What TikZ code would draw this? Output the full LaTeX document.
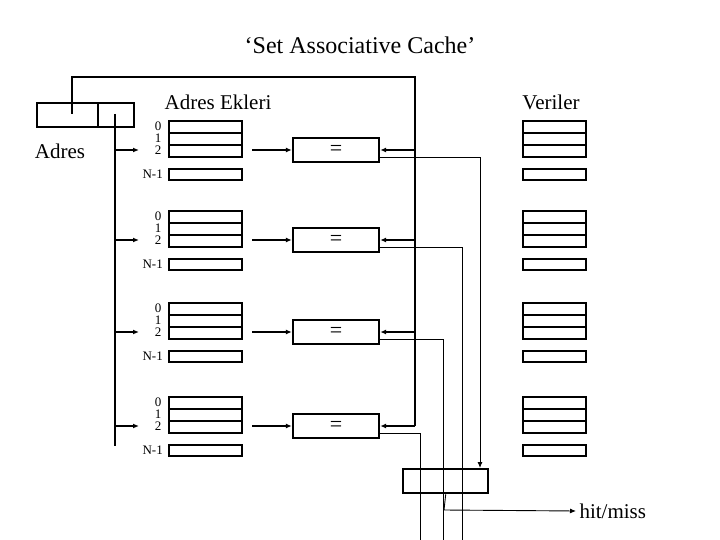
\documentclass[tikz,border=0pt]{standalone}
\usepackage{fontspec}
\setmainfont{Liberation Serif}
\usetikzlibrary{arrows.meta}
\begin{document}
\begin{tikzpicture}[x=1pt,y=-1pt,
  thk/.style={line width=2.6pt},
  box/.style={draw,line width=2.4pt,minimum width=#1,inner sep=0pt},
  arr/.style={-{Latex[length=6pt,width=5pt]}},
  lbl/.style={inner sep=0pt,font=\fontsize{13}{13}\selectfont}]
\useasboundingbox (0,0) rectangle (720,540);
\node[font=\fontsize{24}{24}\selectfont] (title) at (360,45) {‘Set Associative Cache’};
\node[font=\fontsize{21}{21}\selectfont] (ek) at (218,102) {Adres Ekleri};
\node[font=\fontsize{21}{21}\selectfont] (ver) at (551,102) {Veriler};
\node[font=\fontsize{21}{21}\selectfont] (adr) at (60,151) {Adres};
% address register
\node[box=61pt,minimum height=24pt,anchor=north west] (a1) at (36,102) {};
\node[box=36pt,minimum height=24pt,anchor=north west] (a2) at (97,102) {};
\coordinate (busTop) at (415,77);
\draw[thk] (72,114) -- (72,77) -- (busTop) -- (415,426);
\draw[thk] (115,114) -- (115,446);
\foreach \i/\dy/\ox in {1/0/480,2/90/462,3/182/443,4/276/420}{
  \begin{scope}[yshift=-\dy pt]
  \foreach \r in {0,1,2}{
    \node[box=73pt,minimum height=12pt,anchor=north west] (t\i\r) at (168,120+12*\r) {};
    \node[box=63pt,minimum height=12pt,anchor=north west] (d\i\r) at (522,120+12*\r) {};
    \node[lbl] (l\i\r) at (158,126+12*\r) {\r};
  }
  \node[box=73pt,minimum height=11pt,anchor=north west] (tn\i) at (168,168) {};
  \node[box=63pt,minimum height=11pt,anchor=north west] (dn\i) at (522,168) {};
  \node[lbl,anchor=east] (ln\i) at (163,174) {N-1};
  \node[box=86pt,minimum height=24pt] (c\i) at (336,150) {\fontsize{22}{22}\selectfont =};
  \coordinate (s\i) at (115,150);
  \coordinate (b\i) at (415,150);
  \draw[line width=1.3pt,arr] (s\i) -- (139,150);
  \draw[line width=1.3pt,arr] (252,150) -- (c\i.west);
  \draw[line width=1.6pt,arr] (b\i) -- (c\i.east);
  \draw[line width=0.9pt,arr] (c\i.east |- 0,157) -- (\ox,157) -- (\ox,468);
  \end{scope}
}
\node[box=85pt,minimum height=24pt,anchor=north west] (hit) at (402,468) {};
\node[font=\fontsize{21}{21}\selectfont,anchor=west] (hm) at (576,511) {hit/miss};
\draw[line width=0.9pt,arr] (hit.south) -- (444,510) -- (hm.west);
\end{tikzpicture}
\end{document}
